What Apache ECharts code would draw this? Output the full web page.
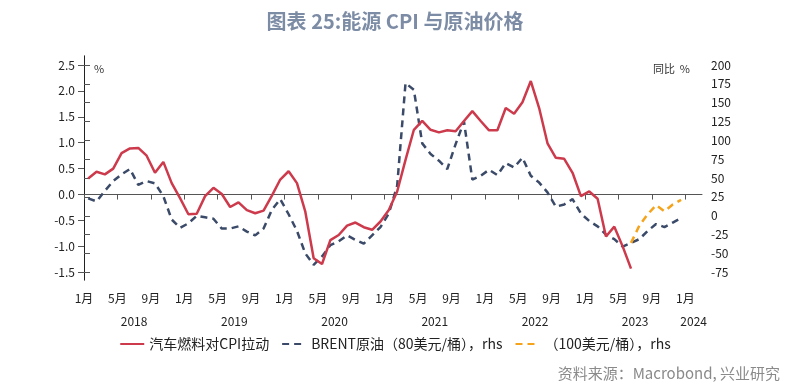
<!DOCTYPE html>
<html><head><meta charset="utf-8">
<script src="https://cdn.jsdelivr.net/npm/echarts@6/dist/echarts.min.js"></script>
<style>html,body{margin:0;padding:0;background:#fff}#c{width:790px;height:390px}</style>
</head><body><div id="c"></div>
<script>
// Monthly data starting Jan 2018 (month index 0)
const startYear = 2018;
const totalMonths = 74; // Jan 2018 .. Mar 2024 axis extent
const monthTickLabels = ['1月','5月','9月'];
const yearLabels = ['2018','2019','2020','2021','2022','2023','2024'];
const leftTicks = [-1.5,-1.0,-0.5,0.0,0.5,1.0,1.5,2.0,2.5];
const rightTicks = [-75,-50,-25,0,25,50,75,100,125,150,175,200];

// 汽车燃料对CPI拉动 (%), Jan 2018 - Jun 2023
const fuelCPI = [0.31,0.44,0.39,0.50,0.80,0.89,0.90,0.75,0.42,0.63,
  0.22,-0.07,-0.38,-0.37,-0.03,0.13,0.01,-0.24,-0.15,-0.30,
  -0.36,-0.31,-0.02,0.29,0.45,0.22,-0.33,-1.23,-1.34,-0.88,
  -0.78,-0.60,-0.54,-0.63,-0.68,-0.52,-0.30,0.06,0.67,1.25,
  1.42,1.25,1.20,1.24,1.22,1.42,1.61,1.42,1.24,1.24,
  1.67,1.56,1.78,2.19,1.67,0.99,0.71,0.69,0.42,-0.03,
  0.06,-0.08,-0.81,-0.62,-1.00,-1.43];
// BRENT原油 yoy (80美元/桶), Jan 2018 - Dec 2023
const brent80 = [23,19,33,46,55,62,41,46,43,26,
  -5,-16,-10,0,-2,-4,-17,-17,-14,-21,
  -26,-17,8,22,2,-20,-50,-65,-54,-39,
  -34,-26,-32,-37,-26,-15,3,40,176,167,
  96,82,73,62,95,125,48,53,61,54,
  70,64,77,53,44,31,12,15,22,3,
  -7,-14,-25,-31,-41,-36,-31,-20,-11,-15,
  -9,-3];
// (100美元/桶) scenario, Jun 2023 - Dec 2023
const brent100Start = 65;
const brent100 = [-36,-13,2,14,6,15,21];

const toPts = (arr, start) => arr.map((v, i) => [start + i + 0.5, v]);

const monthTicks = [];
for (let m = 0; m <= 72; m += 4) monthTicks.push(m);
const yearPos = [6,18,30,42,54,66,73];

const cjk = '"Noto Sans CJK SC","Noto Sans",sans-serif';
const chart = echarts.init(document.getElementById('c'));
chart.setOption({
  animation: false,
  backgroundColor: '#fff',
  title: [
    {text: '图表 25:能源 CPI 与原油价格', left: 'center', top: 6,
     textStyle: {fontFamily: cjk, fontSize: 20, fontWeight: 'bold', color: '#7d8ca5'}},
    {text: '%', left: 89, top: 58, textStyle: {fontFamily: cjk, fontSize: 11, fontWeight: 'normal', color: '#333'}},
    {text: '同比  %', right: 95, top: 58, textStyle: {fontFamily: cjk, fontSize: 11, fontWeight: 'normal', color: '#333'}},
    {text: '资料来源：Macrobond, 兴业研究', right: 5, top: 361,
     textStyle: {fontFamily: cjk, fontSize: 15, fontWeight: 'normal', color: '#8a8a8a'}}
  ],
  grid: {left: 84, right: 88, top: 56, bottom: 110},
  legend: {
    left: 'center', top: 332, itemWidth: 24, itemHeight: 10, itemGap: 12,
    itemStyle: {opacity: 0},
    textStyle: {fontFamily: cjk, fontSize: 14, color: '#222'},
    data: ['汽车燃料对CPI拉动', 'BRENT原油（80美元/桶），rhs', '（100美元/桶），rhs']
  },
  xAxis: [
    {type: 'value', min: 0, max: totalMonths,
     axisLine: {show: true, lineStyle: {color: '#555', width: 1}},
     axisTick: {show: true, customValues: monthTicks, length: 5, lineStyle: {color: '#555'}},
     axisLabel: {customValues: monthTicks, color: '#222', fontSize: 12, fontFamily: cjk, margin: 12,
       formatter: v => monthTickLabels[(Math.round(v) % 12) / 4]},
     splitLine: {show: false}},
    {type: 'value', min: 0, max: totalMonths, position: 'bottom', offset: 28,
     axisLine: {show: false}, axisTick: {show: false},
     axisLabel: {customValues: yearPos, color: '#222', fontSize: 12, fontFamily: cjk, margin: 7,
       formatter: v => yearLabels[Math.floor(v / 12)]},
     splitLine: {show: false}}
  ],
  yAxis: [
    {type: 'value', min: -1.649, max: 2.674, position: 'left',
     axisLine: {show: true, lineStyle: {color: '#555', width: 1}},
     axisTick: {show: true, customValues: leftTicks, length: 6, lineStyle: {color: '#555'}},
     axisLabel: {customValues: leftTicks, color: '#222', fontSize: 12, fontFamily: cjk, margin: 9,
       formatter: v => v.toFixed(1)},
     splitLine: {show: false}},
    {type: 'value', min: -85.2, max: 211.9, position: 'right',
     axisLine: {show: true, lineStyle: {color: '#222', width: 1}},
     axisTick: {show: true, customValues: rightTicks, length: 6, lineStyle: {color: '#555'}},
     axisLabel: {customValues: rightTicks, color: '#222', fontSize: 12, fontFamily: cjk, margin: 9},
     splitLine: {show: false}}
  ],
  series: [
    {name: '汽车燃料对CPI拉动', type: 'line', xAxisIndex: 0, yAxisIndex: 0,
     data: toPts(fuelCPI, 0), symbol: 'none', z: 3,
     lineStyle: {color: '#cc3a4c', width: 2.5}, itemStyle: {color: '#cc3a4c'}},
    {name: 'BRENT原油（80美元/桶），rhs', type: 'line', xAxisIndex: 0, yAxisIndex: 1,
     data: toPts(brent80, 0), symbol: 'none', z: 2,
     lineStyle: {color: '#3a4a68', width: 2.5, type: [7, 5]}, itemStyle: {color: '#3a4a68'}},
    {name: '（100美元/桶），rhs', type: 'line', xAxisIndex: 0, yAxisIndex: 1,
     data: toPts(brent100, brent100Start), symbol: 'none', z: 2,
     lineStyle: {color: '#f5a31a', width: 2.5, type: [7, 5]}, itemStyle: {color: '#f5a31a'}}
  ]
});
</script>
</body></html>
